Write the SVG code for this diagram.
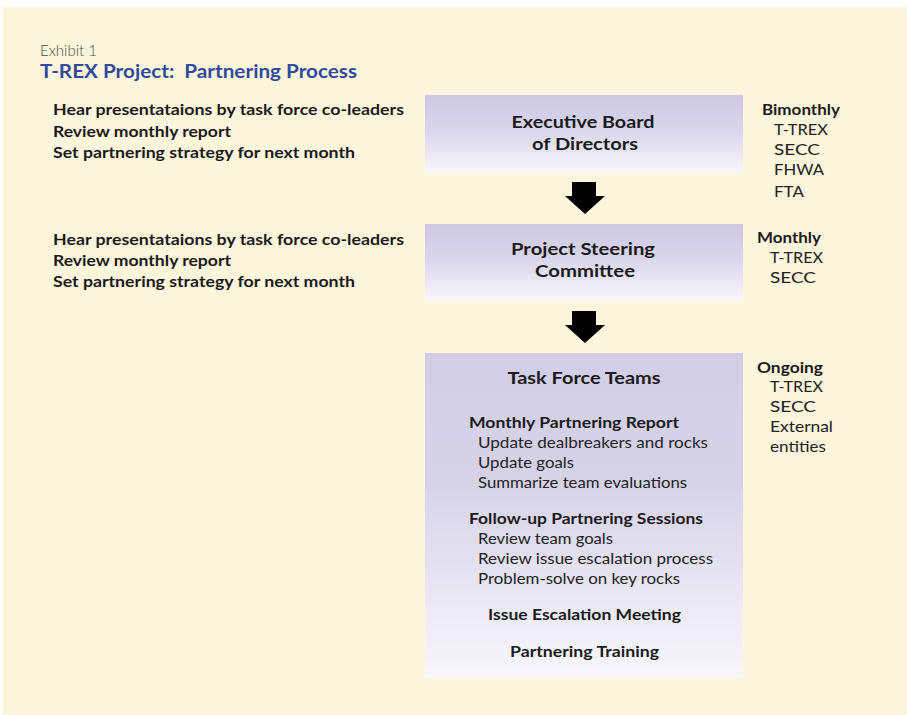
<svg xmlns="http://www.w3.org/2000/svg" width="907" height="715" viewBox="0 0 907 715">
  <style>
    text { font-family: Lato, "Open Sans", "Liberation Sans", sans-serif; fill: #1a1a1a; }
    .node-title { font-weight: bold; font-size: 17.5px; text-anchor: middle; }
    .note { font-weight: bold; font-size: 15px; }
    .sub { font-size: 15px; fill: #222222; }
    .sec { font-weight: bold; font-size: 16px; }
    .freq { font-weight: bold; font-size: 16px; }
    .who { font-size: 16px; fill: #222222; }
  </style>
  <defs>
    <linearGradient id="boxFill" x1="0" y1="0" x2="0" y2="1">
      <stop offset="0" stop-color="#cdc8e3"/>
      <stop offset="0.45" stop-color="#d9d6eb"/>
      <stop offset="1" stop-color="#f8f7fb"/>
    </linearGradient>
    <linearGradient id="tallFill" x1="0" y1="0" x2="0" y2="1">
      <stop offset="0" stop-color="#d2cee6"/>
      <stop offset="0.4" stop-color="#d6d3e9"/>
      <stop offset="1" stop-color="#f8f7fc"/>
    </linearGradient>
    <path id="downArrow" d="M -13 0 H 11 V 14 H 20 L 0 32 L -20 14 H -13 Z"/>
  </defs>

  <!-- page panel -->
  <rect x="0" y="0" width="907" height="715" fill="#ffffff"/>
  <rect x="3" y="7" width="904" height="708" fill="#fdf5dc"/>

  <!-- heading -->
  <text x="40" y="56" textLength="57" lengthAdjust="spacingAndGlyphs" style="font-size:15.5px;font-weight:300;fill:#4a4a4a">Exhibit 1</text>
  <text x="40" y="78" textLength="317" lengthAdjust="spacingAndGlyphs" style="font-size:18px;font-weight:bold;fill:#2f4b9b">T-REX Project:&#160; Partnering Process</text>

  <!-- left-hand activity notes -->
  <g id="notes-board">
    <text class="note" x="53" y="115" textLength="351" lengthAdjust="spacingAndGlyphs">Hear presentataions by task force co-leaders</text>
    <text class="note" x="53" y="137" textLength="178" lengthAdjust="spacingAndGlyphs">Review monthly report</text>
    <text class="note" x="53" y="158" textLength="302" lengthAdjust="spacingAndGlyphs">Set partnering strategy for next month</text>
  </g>
  <g id="notes-steering">
    <text class="note" x="53" y="245" textLength="351" lengthAdjust="spacingAndGlyphs">Hear presentataions by task force co-leaders</text>
    <text class="note" x="53" y="266" textLength="178" lengthAdjust="spacingAndGlyphs">Review monthly report</text>
    <text class="note" x="53" y="287" textLength="302" lengthAdjust="spacingAndGlyphs">Set partnering strategy for next month</text>
  </g>

  <!-- nodes -->
  <g id="executive-board">
    <rect x="425" y="95" width="318" height="78" fill="url(#boxFill)"/>
    <text class="node-title" x="583" y="128" textLength="143" lengthAdjust="spacingAndGlyphs">Executive Board</text>
    <text class="node-title" x="585" y="150" textLength="106" lengthAdjust="spacingAndGlyphs">of Directors</text>
  </g>
  <g id="steering-committee">
    <rect x="425" y="224" width="318" height="77" fill="url(#boxFill)"/>
    <text class="node-title" x="583" y="255" textLength="144" lengthAdjust="spacingAndGlyphs">Project Steering</text>
    <text class="node-title" x="585" y="277" textLength="100" lengthAdjust="spacingAndGlyphs">Committee</text>
  </g>
  <g id="task-force-teams">
    <rect x="425" y="353" width="318" height="325" fill="url(#tallFill)"/>
    <text class="node-title" x="584" y="384" textLength="153" lengthAdjust="spacingAndGlyphs">Task Force Teams</text>
    <text class="sec" x="469" y="428" textLength="210" lengthAdjust="spacingAndGlyphs">Monthly Partnering Report</text>
    <text class="sub" x="478" y="448" textLength="230" lengthAdjust="spacingAndGlyphs">Update dealbreakers and rocks</text>
    <text class="sub" x="478" y="468" textLength="96" lengthAdjust="spacingAndGlyphs">Update goals</text>
    <text class="sub" x="478" y="488" textLength="209" lengthAdjust="spacingAndGlyphs">Summarize team evaluations</text>
    <text class="sec" x="469" y="524" textLength="234" lengthAdjust="spacingAndGlyphs">Follow-up Partnering Sessions</text>
    <text class="sub" x="478" y="544" textLength="135" lengthAdjust="spacingAndGlyphs">Review team goals</text>
    <text class="sub" x="478" y="564" textLength="235" lengthAdjust="spacingAndGlyphs">Review issue escalation process</text>
    <text class="sub" x="478" y="584" textLength="202" lengthAdjust="spacingAndGlyphs">Problem-solve on key rocks</text>
    <text class="sec" x="488" y="620" textLength="193" lengthAdjust="spacingAndGlyphs">Issue Escalation Meeting</text>
    <text class="sec" x="510" y="657" textLength="149" lengthAdjust="spacingAndGlyphs">Partnering Training</text>
  </g>

  <!-- meeting frequency and participants -->
  <g id="freq-board">
    <text class="freq" x="762" y="115" textLength="78" lengthAdjust="spacingAndGlyphs">Bimonthly</text>
    <text class="who" x="774" y="135" textLength="54" lengthAdjust="spacingAndGlyphs">T-TREX</text>
    <text class="who" x="774" y="155" textLength="46" lengthAdjust="spacingAndGlyphs">SECC</text>
    <text class="who" x="774" y="175" textLength="50" lengthAdjust="spacingAndGlyphs">FHWA</text>
    <text class="who" x="774" y="197" textLength="30" lengthAdjust="spacingAndGlyphs">FTA</text>
  </g>
  <g id="freq-steering">
    <text class="freq" x="757" y="243" textLength="64" lengthAdjust="spacingAndGlyphs">Monthly</text>
    <text class="who" x="770" y="263" textLength="53" lengthAdjust="spacingAndGlyphs">T-TREX</text>
    <text class="who" x="770" y="283" textLength="46" lengthAdjust="spacingAndGlyphs">SECC</text>
  </g>
  <g id="freq-teams">
    <text class="freq" x="757" y="373" textLength="66" lengthAdjust="spacingAndGlyphs">Ongoing</text>
    <text class="who" x="770" y="392" textLength="53" lengthAdjust="spacingAndGlyphs">T-TREX</text>
    <text class="who" x="770" y="412" textLength="46" lengthAdjust="spacingAndGlyphs">SECC</text>
    <text class="who" x="770" y="432" textLength="63" lengthAdjust="spacingAndGlyphs">External</text>
    <text class="who" x="770" y="452" textLength="56" lengthAdjust="spacingAndGlyphs">entities</text>
  </g>

  <!-- connectors -->
  <g id="connectors" fill="#000000">
    <use href="#downArrow" x="585" y="182"/>
    <use href="#downArrow" x="585" y="311"/>
  </g>
</svg>
